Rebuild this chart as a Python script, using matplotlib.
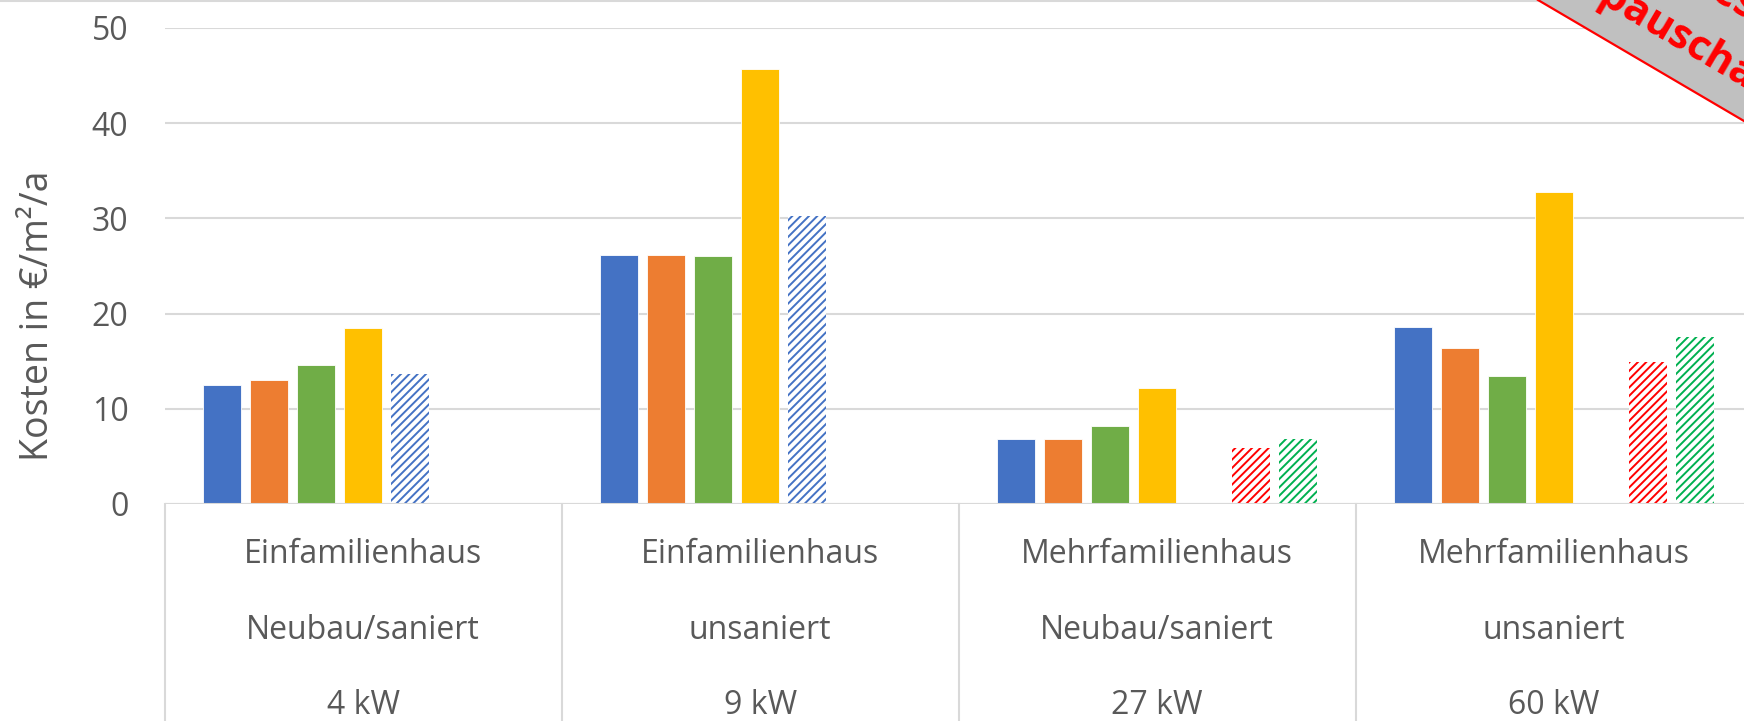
import numpy as np
import matplotlib
matplotlib.use("Agg")
import matplotlib.pyplot as plt
from matplotlib.patches import Polygon
from matplotlib.lines import Line2D
from matplotlib.font_manager import FontProperties

plt.rcParams["font.family"] = ["Open Sans", "DejaVu Sans"]
plt.rcParams["hatch.linewidth"] = 1.4

# Data (Kosten in EUR/m2/a); NaN = no bar
buildings = ["Einfamilienhaus", "Einfamilienhaus", "Mehrfamilienhaus", "Mehrfamilienhaus"]
states = ["Neubau/saniert", "unsaniert", "Neubau/saniert", "unsaniert"]
powers = ["4 kW", "9 kW", "27 kW", "60 kW"]

s_blue = [12.5, 26.2, 6.8, 18.6]
s_orange = [13.0, 26.2, 6.8, 16.4]
s_green = [14.6, 26.0, 8.2, 13.4]
s_yellow = [18.5, 45.7, 12.15, 32.8]
s_blue_h = [13.7, 30.2, np.nan, np.nan]
s_red_h = [np.nan, np.nan, 5.85, 14.9]
s_green_h = [np.nan, np.nan, 6.8, 17.5]

yticks = [0, 10, 20, 30, 40, 50]

series = [
    (s_blue, "#4472C4", False),
    (s_orange, "#ED7D31", False),
    (s_green, "#70AD47", False),
    (s_yellow, "#FFC000", False),
    (s_blue_h, "#4472C4", True),
    (s_red_h, "#FF0000", True),
    (s_green_h, "#00B050", True),
]

W, H = 1744, 721
fig = plt.figure(figsize=(W / 100, H / 100), dpi=100)
fig.patch.set_facecolor("white")
ax = fig.add_axes([164.6 / W, (H - 504) / H, 4 * 397 / W, 476 / H])

grey = "#D9D9D9"
text_c = "#595959"

centers = np.arange(len(powers)) + 0.5
slot = 0.1185
width = 0.095
for k, (vals, color, hatched) in enumerate(series):
    x = centers + (k - 3) * slot
    if hatched:
        ax.bar(x, vals, width, facecolor="white", edgecolor=color,
               linewidth=0, hatch="////", zorder=2)
    else:
        ax.bar(x, vals, width, color=color, edgecolor="white",
               linewidth=0.6, zorder=2)

ax.set_xlim(0, len(powers))
ax.set_ylim(0, 50)
ax.set_yticks(yticks)
ax.set_xticks([])
ax.yaxis.grid(True, color=grey, linewidth=1.5)
ax.set_axisbelow(True)
for sp in ax.spines.values():
    sp.set_visible(False)
ax.axhline(0, color=grey, linewidth=1.5, zorder=3)
ax.tick_params(axis="y", length=0, pad=26, labelsize=23, labelcolor=text_c)
ax.set_ylabel("Kosten in €/m²/a", fontsize=27, color=text_c)
ax.yaxis.set_label_coords(-0.068, 0.395)

# multi-level category labels with separators
trans = ax.get_xaxis_transform()
for b in range(len(powers) + 1):
    ax.add_line(Line2D([b, b], [0, -0.5], transform=trans, color=grey,
                       linewidth=1.5, clip_on=False))
for i, c in enumerate(centers):
    for row, txt in enumerate([buildings[i], states[i], powers[i]]):
        ax.text(c, -0.107 - row * 0.158, txt, transform=trans, ha="center",
                va="center", fontsize=23, color=text_c)

# top border of the chart area
fig.add_artist(Line2D([0, 1], [1 - 1 / H, 1 - 1 / H], color=grey,
                      linewidth=1.5, transform=fig.transFigure))

# corner banner (cut off by the picture edge, as in the original)
x0, y1 = 1538 / W, 1 - 121 / H
fig.add_artist(Polygon([(x0, 1.0), (1.0, y1), (1.0, 1.0)], closed=True,
                       facecolor="#C0C0C0", edgecolor="none",
                       transform=fig.transFigure, zorder=5))
fig.add_artist(Line2D([x0, 1.0], [1.0, y1], color="#FF0000", linewidth=1.6,
                      transform=fig.transFigure, zorder=6))

ang = -30.4
fp = FontProperties(family="Open Sans", weight="bold", size=30)
renderer = fig.canvas.get_renderer()
w_pre, _, _ = renderer.get_text_width_height_descent("Kosten", fp, ismath=False)
px, py = 1597, H - 3  # where the "p" starts, display pixels
ca, sa = np.cos(np.radians(-ang)), np.sin(np.radians(-ang))
fig.text((px - w_pre * ca) / W, (py + w_pre * sa) / H, "Kostenpauschale",
         rotation=ang, rotation_mode="anchor", ha="left", va="baseline",
         fontproperties=fp, color="#FF0000", zorder=7)
fig.text(1748 / W, (H - 22) / H, "Grobes", rotation=ang,
         rotation_mode="anchor", ha="right", va="baseline",
         fontproperties=fp, color="#FF0000", zorder=7)

fig.savefig("out.png", dpi=100, facecolor=fig.get_facecolor())
